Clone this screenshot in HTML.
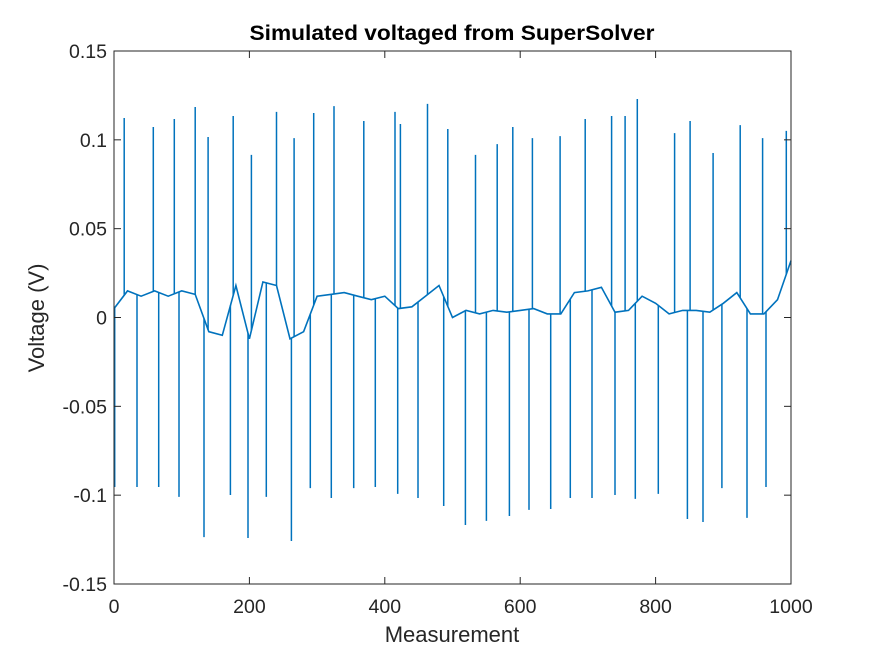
<!DOCTYPE html>
<html><head><meta charset="utf-8"><style>
body{margin:0;background:#fff;}
svg text{font-family:"Liberation Sans",Arial,sans-serif;fill:#262626;}
</style></head><body>
<svg id="chart" width="875" height="656" viewBox="0 0 875 656" xmlns="http://www.w3.org/2000/svg">
<rect width="875" height="656" fill="#fff"/>
<text x="452" y="40" text-anchor="middle" font-size="21" font-weight="bold" textLength="405" lengthAdjust="spacingAndGlyphs" style="fill:#000">Simulated voltaged from SuperSolver</text>
<rect x="114" y="51" width="677" height="533" fill="#fff"/>
<g id="marks"></g>
<g id="axes"></g>
<text x="452" y="642" text-anchor="middle" font-size="22">Measurement</text>
<text transform="translate(44,318) rotate(-90)" text-anchor="middle" font-size="22">Voltage (V)</text>
</svg>
<script>
const baseIdx = [0,20,40,60,80,100,120,140,160,180,200,220,240,260,280,300,320,340,360,380,400,420,440,460,480,500,520,540,560,580,600,620,640,660,680,700,720,740,760,780,800,820,840,860,880,900,920,940,960,980,1000];
const baseVal = [0.005,0.015,0.012,0.015,0.012,0.015,0.013,-0.008,-0.010,0.018,-0.012,0.020,0.018,-0.012,-0.008,0.012,0.013,0.014,0.012,0.010,0.012,0.005,0.006,0.012,0.018,0.000,0.004,0.002,0.004,0.003,0.004,0.005,0.002,0.002,0.014,0.015,0.017,0.003,0.004,0.012,0.008,0.002,0.004,0.004,0.003,0.008,0.014,0.002,0.002,0.010,0.032];
const upIdx = [15,58,89,120,139,176,203,240,266,295,325,369,415,423,463,493,534,566,589,618,659,696,735,755,773,828,851,885,925,958,993];
const upVal = [0.1123,0.1072,0.1117,0.1185,0.1016,0.1134,0.0915,0.1157,0.1010,0.1151,0.1190,0.1106,0.1157,0.1089,0.1202,0.1061,0.0915,0.0976,0.1072,0.1010,0.1021,0.1117,0.1134,0.1134,0.1230,0.1038,0.1106,0.0926,0.1083,0.1010,0.1050];
const downIdx = [1,34,66,96,133,172,198,225,262,290,321,354,386,419,449,487,519,550,584,613,645,674,706,740,770,804,847,870,898,935,963];
const downVal = [-0.0954,-0.0954,-0.0954,-0.1010,-0.1236,-0.0999,-0.1241,-0.1010,-0.1258,-0.0960,-0.1016,-0.0960,-0.0954,-0.0993,-0.1016,-0.1061,-0.1168,-0.1145,-0.1117,-0.1083,-0.1078,-0.1016,-0.1016,-0.0999,-0.1021,-0.0993,-0.1134,-0.1151,-0.0960,-0.1128,-0.0954];
const xTicks = [0,200,400,600,800,1000];
const xTickLabels = ["0","200","400","600","800","1000"];
const yTicks = [-0.15,-0.1,-0.05,0,0.05,0.1,0.15];
const yTickLabels = ["-0.15","-0.1","-0.05","0","0.05","0.1","0.15"];

const X0=114,X1=791,Y0=584,Y1=51;
function xs(i){return X0+(i/1000)*(X1-X0);}
function ys(v){return Y0-((v+0.15)/0.3)*(Y0-Y1);}
function baseAt(i){
  for(let k=0;k<baseIdx.length-1;k++){
    if(i>=baseIdx[k]&&i<=baseIdx[k+1]){const t=(i-baseIdx[k])/(baseIdx[k+1]-baseIdx[k]);return baseVal[k]+t*(baseVal[k+1]-baseVal[k]);}
  }
  return baseVal[baseVal.length-1];
}
const NS="http://www.w3.org/2000/svg";
const marks=document.getElementById('marks');
const axes=document.getElementById('axes');
const col="#0072BD";
let d=baseIdx.map((i,k)=>(k?'L':'M')+xs(i).toFixed(1)+' '+ys(baseVal[k]).toFixed(1)).join(' ');
const base=document.createElementNS(NS,'path');
base.setAttribute('d',d);base.setAttribute('fill','none');base.setAttribute('stroke',col);base.setAttribute('stroke-width','1.6');


marks.appendChild(base);
function spike(i,v,name){
  const l=document.createElementNS(NS,'path');
  const x=xs(i).toFixed(1);
  l.setAttribute('d','M'+x+' '+ys(baseAt(i)).toFixed(1)+' L'+x+' '+ys(v).toFixed(1));
  l.setAttribute('stroke',col);l.setAttribute('stroke-width','1.5');
  
  
  marks.appendChild(l);
}
upIdx.forEach((i,k)=>spike(i,upVal[k],'voltage-spike-up'));
downIdx.forEach((i,k)=>spike(i,downVal[k],'voltage-spike-down'));

const box=document.createElementNS(NS,'rect');
box.setAttribute('x',X0);box.setAttribute('y',Y1);box.setAttribute('width',X1-X0);box.setAttribute('height',Y0-Y1);
box.setAttribute('fill','none');box.setAttribute('stroke','#262626');box.setAttribute('stroke-width','1');


axes.appendChild(box);
function line(x1,y1,x2,y2,name){
  const l=document.createElementNS(NS,'line');
  l.setAttribute('x1',x1);l.setAttribute('y1',y1);l.setAttribute('x2',x2);l.setAttribute('y2',y2);
  l.setAttribute('stroke','#262626');l.setAttribute('stroke-width','1');
  
  
  axes.appendChild(l);
}
function text(x,y,s,anchor,name){
  const t=document.createElementNS(NS,'text');
  t.setAttribute('x',x);t.setAttribute('y',y);t.setAttribute('text-anchor',anchor);t.setAttribute('font-size','19.5');
  t.textContent=s;
  
  
  axes.appendChild(t);
}
xTicks.forEach((v,k)=>{const x=xs(v);line(x,Y0,x,Y0-7,'x-tick');line(x,Y1,x,Y1+7,'x-tick-top');text(x,Y0+29,xTickLabels[k],'middle','x-tick-label');});
yTicks.forEach((v,k)=>{const y=ys(v);line(X0,y,X0+7,y,'y-tick');line(X1,y,X1-7,y,'y-tick-right');text(X0-7,y+7,yTickLabels[k],'end','y-tick-label');});
</script>
</body></html>
